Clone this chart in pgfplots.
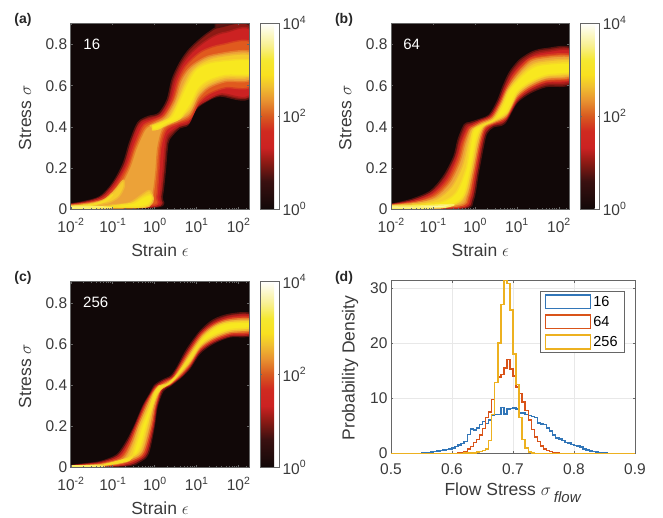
\documentclass[border=0pt]{standalone}
\usepackage{pgfplots}
\pgfplotsset{compat=1.18}
\usepackage{fontspec}
\setmainfont{Liberation Sans}
\definecolor{bg}{HTML}{110808}
\definecolor{c0}{HTML}{5A1412}
\definecolor{cA}{HTML}{8C1A14}
\definecolor{cB}{HTML}{CC2222}
\definecolor{cC}{HTML}{E05A1E}
\definecolor{cD}{HTML}{ECA238}
\definecolor{cE}{HTML}{F5CC2C}
\definecolor{cF}{HTML}{F8E81F}
\definecolor{cG}{HTML}{FBF6A8}
\colorlet{ec0}{c0!70!bg}
\colorlet{ecA}{cA!55!bg}
\colorlet{ecB}{cB!50!cA}
\colorlet{ecC}{cC!50!cB}
\colorlet{ecD}{cD!50!cC}
\colorlet{ecE}{cE!50!cD}
\colorlet{ecF}{cF!50!cE}
\colorlet{ecG}{cG!50!cF}
\definecolor{txt}{HTML}{3A3A3A}
\definecolor{fr}{HTML}{666666}
\definecolor{h1}{HTML}{3276B8}
\definecolor{h2}{HTML}{D95319}
\definecolor{h3}{HTML}{EDB120}
\pgfplotsset{
  colormap={heat}{
    color(0)=(bg) color(0.15)=(rgb,255:red,58;green,16;blue,16)
    color(0.25)=(cA) color(0.33)=(cB) color(0.42)=(rgb,255:red,208;green,42;blue,32)
    color(0.5)=(rgb,255:red,216;green,90;blue,32) color(0.58)=(rgb,255:red,232;green,144;blue,48)
    color(0.66)=(rgb,255:red,240;green,192;blue,48) color(0.72)=(rgb,255:red,248;green,224;blue,32)
    color(0.8)=(rgb,255:red,245;green,232;blue,48) color(0.88)=(rgb,255:red,248;green,240;blue,144)
    color(1)=(white)},
  heatax/.style={
    scale only axis, width=178.6pt, height=186pt, anchor=south west,
    xmin=-2, xmax=2.26, ymin=0, ymax=0.905,
    axis on top,
    axis background/.style={fill=bg},
    axis line style={color=fr, line width=.7pt},
    tick style={color=fr, line width=.4pt},
    major tick length=2.2pt, minor tick length=1.2pt,
    xtick={-2,-1,0,1,2},
    xticklabels={\tp{-2},\tp{-1},\tp{0},\tp{1},\tp{2}},
    minor xtick={-1.7,-1.52,-1.4,-1.3,-1.22,-1.15,-1.1,-1.05,-.7,-.52,-.4,-.3,-.22,-.15,-.1,-.05,.3,.48,.6,.7,.78,.85,.9,.95,1.3,1.48,1.6,1.7,1.78,1.85,1.9,1.95,2.18},
    ytick={0,.2,.4,.6,.8},
    yticklabels={0,0.2,0.4,0.6,0.8},
    tick label style={font=\fontsize{15.5}{16}\selectfont, color=txt},
    xticklabel style={yshift=-6pt},
    xlabel={Strain $\epsilon$}, ylabel={Stress $\sigma$},
    every axis x label/.style={at={(axis description cs:.5,-.222)},anchor=center,font=\fontsize{17.5}{18}\selectfont,color=txt},
    every axis y label/.style={at={(axis description cs:-.256,.49)},anchor=center,rotate=90,font=\fontsize{17.5}{18}\selectfont,color=txt},
    colormap name=heat,
    point meta min=0, point meta max=4,
    colorbar,
    colorbar style={
      at={(1.06,1)}, anchor=north west, xshift=0pt,
      width=19pt,
      ytick={0,2,4},
      yticklabels={\tp{0},\tp{2},\tp{4}},
      tick style={color=fr},
      major tick length=1.5pt,
      axis line style={color=fr, line width=.7pt},
      yticklabel style={font=\fontsize{15.5}{16}\selectfont, color=txt},
    },
  }
}
\newcommand\tp[1]{10\raisebox{.42em}{\fontsize{10.5}{10}\selectfont #1}}
\newcommand\band[2]{\addplot[draw=e#1,line width=1.4pt,line join=round,fill=#1,smooth,tension=.5,forget plot] coordinates {#2} -- cycle;}
\begin{document}
\begin{tikzpicture}[x=1pt,y=1pt]
\path[use as bounding box] (0,0) rectangle (663,517);

% ---------- (a)
\begin{axis}[heatax, at={(70.7pt,308pt)}]
\band{c0}{(1.45,.905)(2.3,.905)(2.3,.86)(1.45,.86)}
\band{cA}{(-2,.025)(-1.7,.035)(-1.3,.06)(-1,.125)(-.75,.22)(-.6,.32)(-.45,.40)(-.35,.43)(-.15,.45)(.1,.465)(.3,.53)(.42,.63)(.6,.71)(.8,.77)(1.05,.82)(1.3,.86)(1.55,.885)(2.3,.885)(2.3,.55)(1.55,.55)(1.2,.52)(.98,.485)(.8,.41)(.6,.395)(.35,.34)(.3,.29)(.25,.175)(.18,.06)(.05,.01)(-2,0)}
\band{cB}{(-2,.022)(-1.6,.035)(-1.25,.06)(-.98,.12)(-.72,.21)(-.57,.31)(-.42,.39)(-.3,.425)(-.1,.44)(.15,.46)(.35,.53)(.47,.62)(.65,.70)(.85,.755)(1.1,.80)(1.4,.84)(1.7,.86)(2.3,.865)(2.3,.56)(1.6,.56)(1.25,.53)(1,.495)(.82,.42)(.6,.405)(.32,.36)(.25,.3)(.2,.175)(.13,.06)(0,.012)(-2,.003)}
\band{cC}{(-2,.02)(-1.55,.032)(-1.2,.055)(-.92,.115)(-.65,.21)(-.5,.30)(-.35,.375)(-.25,.41)(-.05,.43)(.2,.455)(.42,.53)(.55,.62)(.72,.69)(.95,.74)(1.2,.775)(1.6,.80)(2.3,.81)(2.3,.60)(1.7,.59)(1.3,.56)(1.05,.515)(.85,.44)(.55,.415)(.28,.385)(.15,.3)(.1,.175)(.05,.06)(-.08,.015)(-2,.004)}
\band{cD}{(-2,.018)(-1.5,.03)(-1.15,.05)(-.85,.105)(-.6,.2)(-.45,.29)(-.3,.36)(-.2,.395)(0,.42)(.25,.45)(.48,.53)(.62,.62)(.8,.68)(1.05,.72)(1.4,.75)(2.3,.765)(2.3,.63)(1.7,.62)(1.3,.59)(1.05,.54)(.85,.46)(.55,.425)(.22,.395)(.08,.3)(.03,.175)(-.05,.06)(-.2,.02)(-2,.005)}
\band{cE}{(-2,.012)(-1.5,.026)(-1.2,.045)(-.95,.09)(-.75,.14)(-.72,.11)(-.85,.06)(-1.1,.03)(-1.5,.016)(-2,.008)}
\band{cE}{(-1.5,.008)(-1,.02)(-.6,.03)(-.3,.07)(-.12,.09)(-.03,.05)(-.1,.02)(-.3,.008)(-1.5,.004)}
\band{cE}{(-.1,.405)(.1,.42)(.3,.44)(.5,.51)(.68,.60)(.85,.665)(1.1,.71)(1.5,.74)(2.3,.75)(2.3,.645)(1.7,.635)(1.3,.605)(1.05,.56)(.85,.48)(.55,.435)(.2,.40)(0,.385)}
\band{cF}{(-.05,.405)(.15,.42)(.4,.45)(.6,.53)(.78,.61)(1,.68)(1.4,.715)(2.3,.725)(2.3,.655)(1.7,.65)(1.3,.625)(1.05,.585)(.85,.505)(.6,.44)(.3,.415)(.1,.39)(-.05,.385)}
\band{cF}{(-2,.012)(-1.5,.022)(-1.2,.04)(-1,.07)(-1.15,.04)(-1.5,.018)(-2,.008)}
\band{cF}{(-1.2,.008)(-.8,.02)(-.5,.03)(-.25,.06)(-.1,.07)(-.06,.05)(-.15,.02)(-.4,.008)}
\band{cG}{(-2.1,.002)(-2.1,.012)(-1.4,.012)(-1,.006)}
\node[white,font=\fontsize{15}{15}\selectfont] at (rel axis cs:.118,.885) {16};
\end{axis}

% ---------- (b)
\begin{axis}[heatax, at={(391pt,308pt)}]
\band{cA}{(-2,.023)(-1.55,.044)(-1.07,.085)(-.75,.158)(-.5,.255)(-.4,.337)(-.25,.41)(-.13,.42)(.1,.435)(.35,.458)(.55,.53)(.67,.595)(.83,.665)(1.07,.725)(1.38,.765)(1.7,.78)(2.3,.78)(2.3,.612)(1.7,.596)(1.3,.563)(.99,.515)(.71,.417)(.44,.40)(.28,.368)(.2,.304)(.08,.174)(-.04,.044)(-.28,.003)(-2,0)}
\band{cB}{(-2,.021)(-1.5,.04)(-1.03,.08)(-.71,.15)(-.46,.25)(-.35,.33)(-.2,.40)(-.1,.41)(.12,.43)(.38,.455)(.58,.525)(.71,.59)(.87,.655)(1.1,.71)(1.4,.75)(1.7,.765)(2.3,.77)(2.3,.625)(1.7,.61)(1.3,.575)(1,.525)(.72,.43)(.44,.41)(.26,.38)(.16,.31)(.04,.174)(-.08,.05)(-.32,.006)(-2,.001)}
\band{cC}{(-2,.02)(-1.45,.036)(-1,.07)(-.66,.14)(-.42,.24)(-.3,.325)(-.16,.39)(-.06,.405)(.14,.425)(.4,.45)(.6,.52)(.74,.585)(.9,.645)(1.13,.70)(1.42,.74)(2.3,.75)(2.3,.635)(1.7,.62)(1.3,.585)(1,.535)(.73,.44)(.44,.415)(.24,.39)(.13,.315)(0,.174)(-.12,.055)(-.35,.01)(-2,.002)}
\band{cD}{(-2,.018)(-1.4,.032)(-.95,.06)(-.6,.13)(-.36,.23)(-.24,.32)(-.12,.385)(-.02,.40)(.16,.42)(.42,.445)(.62,.515)(.76,.58)(.93,.635)(1.16,.69)(1.45,.73)(2.3,.74)(2.3,.645)(1.7,.63)(1.3,.595)(1,.545)(.74,.45)(.44,.42)(.22,.395)(.1,.32)(-.04,.174)(-.17,.06)(-.4,.015)(-2,.002)}
\band{cE}{(-2,.016)(-1.35,.028)(-.9,.05)(-.55,.11)(-.3,.21)(-.18,.31)(-.08,.38)(0,.395)(.18,.415)(.44,.44)(.64,.51)(.78,.575)(.95,.625)(1.2,.68)(1.5,.715)(2.3,.725)(2.3,.655)(1.7,.64)(1.3,.605)(1,.555)(.75,.46)(.44,.425)(.2,.40)(.07,.325)(-.08,.174)(-.22,.065)(-.5,.02)(-2,.003)}
\band{cF}{(-1.5,.018)(-.8,.035)(-.45,.08)(-.22,.19)(-.12,.30)(-.05,.375)(.03,.395)(.2,.41)(.46,.435)(.66,.505)(.8,.57)(.97,.615)(1.25,.67)(1.55,.70)(2.3,.71)(2.3,.665)(1.7,.65)(1.3,.615)(1,.565)(.76,.47)(.44,.43)(.18,.402)(.03,.33)(-.12,.174)(-.28,.06)(-.6,.018)(-1.5,.006)}
\band{cG}{(-2.1,.003)(-2.1,.014)(-1.4,.014)(-.8,.02)(-.5,.02)(-.8,.006)(-1.4,.004)}
\node[white,font=\fontsize{15}{15}\selectfont] at (rel axis cs:.116,.885) {64};
\end{axis}

% ---------- (c)
\begin{axis}[heatax, at={(70.7pt,49.7pt)}]
\band{cA}{(-2,.008)(-1.7,.016)(-1.3,.027)(-.9,.06)(-.67,.125)(-.48,.2)(-.27,.3)(-.1,.36)(0,.398)(.2,.425)(.4,.445)(.55,.49)(.76,.57)(1.08,.66)(1.4,.717)(1.8,.745)(2.3,.745)(2.3,.644)(1.8,.635)(1.4,.603)(1.08,.555)(.84,.482)(.64,.44)(.36,.395)(.2,.372)(.06,.295)(-.01,.2)(-.15,.068)(-.35,.028)(-.67,.008)(-2,0)}
\band{cB}{(-2,.007)(-1.6,.015)(-1.25,.025)(-.87,.055)(-.64,.12)(-.46,.2)(-.25,.3)(-.08,.36)(.02,.393)(.22,.42)(.42,.44)(.58,.49)(.79,.565)(1.1,.655)(1.42,.705)(1.8,.735)(2.3,.737)(2.3,.65)(1.8,.64)(1.4,.61)(1.08,.565)(.84,.49)(.63,.443)(.36,.40)(.18,.378)(.04,.295)(-.03,.2)(-.19,.07)(-.4,.032)(-.75,.01)(-2,.001)}
\band{cC}{(-2,.006)(-1.5,.014)(-1.2,.022)(-.82,.05)(-.61,.115)(-.43,.2)(-.22,.3)(-.06,.36)(.04,.39)(.24,.415)(.44,.437)(.6,.49)(.81,.56)(1.12,.65)(1.44,.70)(1.8,.725)(2.3,.727)(2.3,.657)(1.8,.648)(1.4,.617)(1.08,.572)(.84,.497)(.62,.447)(.36,.403)(.16,.382)(.02,.295)(-.06,.2)(-.23,.072)(-.45,.036)(-.85,.012)(-2,.001)}
\band{cD}{(-2,.005)(-1.4,.012)(-1.15,.02)(-.76,.045)(-.57,.11)(-.4,.2)(-.19,.3)(-.04,.36)(.06,.385)(.26,.41)(.46,.435)(.62,.485)(.83,.555)(1.14,.645)(1.46,.695)(1.8,.718)(2.3,.72)(2.3,.665)(1.8,.655)(1.4,.625)(1.08,.58)(.84,.505)(.61,.45)(.36,.405)(.15,.385)(0,.295)(-.09,.2)(-.27,.075)(-.5,.04)(-.95,.014)(-2,.002)}
\band{cE}{(-1.9,.005)(-1.3,.012)(-1.1,.018)(-.7,.04)(-.52,.105)(-.36,.2)(-.15,.3)(-.02,.36)(.1,.395)(.28,.405)(.48,.437)(.65,.485)(.85,.55)(1.16,.64)(1.48,.69)(1.8,.71)(2.3,.712)(2.3,.672)(1.8,.662)(1.4,.632)(1.08,.587)(.84,.512)(.6,.455)(.36,.408)(.18,.385)(.08,.36)(-.03,.3)(-.14,.2)(-.31,.08)(-.55,.045)(-1,.016)(-1.9,.002)}
\band{cF}{(-1.2,.012)(-.6,.035)(-.46,.1)(-.3,.2)(-.1,.3)(0,.36)(.12,.392)(.3,.402)(.5,.437)(.7,.495)(.87,.545)(1.18,.635)(1.5,.685)(1.8,.703)(2.3,.705)(2.3,.68)(1.8,.67)(1.4,.64)(1.08,.595)(.84,.52)(.6,.462)(.36,.41)(.2,.393)(.06,.36)(-.05,.3)(-.19,.2)(-.36,.085)(-.6,.047)(-1.2,.012)}
\band{cG}{(-2.1,.001)(-2.1,.007)(-1.5,.007)(-1.2,.005)(-1.5,.002)}
\node[white,font=\fontsize{15}{15}\selectfont] at (rel axis cs:.14,.885) {256};
\end{axis}

% ---------- (d)
\begin{axis}[
  scale only axis, width=244pt, height=172.6pt, anchor=south west,
  at={(391pt,63.7pt)},
  xmin=.5, xmax=.9, ymin=0, ymax=31.3,
  xtick={.5,.6,.7,.8,.9}, xticklabels={0.5,0.6,0.7,0.8,0.9},
  ytick={0,10,20,30}, yticklabels={0,10,20,30},
  grid=major, grid style={color=black!9, line width=.6pt},
  axis line style={color=fr, line width=.7pt},
  tick style={color=fr, line width=.4pt},
  major tick length=2.2pt,
  tick label style={font=\fontsize{15.5}{16}\selectfont, color=txt},
  xticklabel style={yshift=-7pt},
  xlabel={Flow Stress $\sigma$\,\raisebox{-.38em}{\fontsize{15}{15}\selectfont\textit{flow}}},
  ylabel={Probability Density},
  every axis x label/.style={at={(axis description cs:.5,-.23)},anchor=center,font=\fontsize{17.5}{18}\selectfont,color=txt},
  every axis y label/.style={at={(axis description cs:-.168,.494)},anchor=center,rotate=90,font=\fontsize{17.5}{18}\selectfont,color=txt},
  const plot, no markers,
  legend cell align=left,
  legend image code/.code={\draw[#1,line width=1.5pt] (0pt,-6.8pt) rectangle (45pt,6.8pt);},
  legend style={at={(.611,.94)}, anchor=north west, draw=fr, line width=.7pt,
    font=\fontsize{14.5}{15}\selectfont, inner xsep=4.5pt, inner ysep=2.5pt,
    row sep=4.5pt, fill=white, /tikz/every even column/.style={column sep=3pt}},
]
\addplot[h1,line width=1.5pt] coordinates {(.5,0)(.55,.05)(.555,.1)(.56,.15)(.565,.25)(.57,.3)(.575,.4)(.58,.5)(.585,.6)(.59,.7)(.595,.8)(.6,1)(.605,1.2)(.61,1.5)(.615,1.8)(.62,2.1)(.625,3.4)(.63,4.4)(.635,4.2)(.64,4.6)(.645,5.2)(.65,5.8)(.655,5.4)(.66,6)(.665,6.9)(.67,7)(.675,7)(.68,8.3)(.685,7.1)(.69,8)(.695,8.1)(.7,8.2)(.705,8)(.71,7.3)(.715,7.3)(.72,7)(.725,6.9)(.73,6.7)(.735,6.5)(.74,5.5)(.745,5.3)(.75,5.2)(.755,4.6)(.76,4)(.765,3.3)(.77,2.8)(.775,2.6)(.78,2.3)(.785,2)(.79,1.9)(.795,1.6)(.8,1.4)(.805,1.3)(.81,1.1)(.815,.8)(.82,.6)(.825,.45)(.83,.3)(.835,.2)(.84,.1)(.845,.05)(.85,.03)(.855,0)(.9,0)};
\addplot[h2,line width=1.5pt] coordinates {(.5,0)(.61,.05)(.615,.1)(.62,.3)(.625,.8)(.63,1.2)(.635,2)(.64,2.5)(.645,3.3)(.65,4.5)(.655,6.5)(.66,7.5)(.665,9.8)(.67,12.8)(.675,13.8)(.68,14.3)(.685,15.5)(.69,17)(.695,15.3)(.7,14)(.705,12)(.71,10.8)(.715,9.3)(.72,7.8)(.725,6)(.73,4.3)(.735,3)(.74,2.1)(.745,1.3)(.75,.8)(.755,.5)(.76,.3)(.765,.15)(.77,.05)(.775,0)(.9,0)};
\addplot[h3,line width=1.5pt] coordinates {(.5,0)(.62,.05)(.63,.1)(.64,.2)(.645,.3)(.65,.5)(.655,.8)(.66,2.3)(.665,7)(.67,12.8)(.675,20)(.68,27)(.685,31.3)(.69,30.8)(.695,26)(.7,18)(.705,12.5)(.71,6.5)(.715,2.5)(.72,1)(.725,.2)(.73,.05)(.735,0)(.9,0)};
\legend{16,64,256}
\end{axis}

% panel letters
\node[font=\fontsize{14}{14}\selectfont\bfseries,color=black!85] at (23,497) {(a)};
\node[font=\fontsize{14}{14}\selectfont\bfseries,color=black!85] at (344,497) {(b)};
\node[font=\fontsize{14}{14}\selectfont\bfseries,color=black!85] at (23,239) {(c)};
\node[font=\fontsize{14}{14}\selectfont\bfseries,color=black!85] at (344,239) {(d)};
\end{tikzpicture}
\end{document}
